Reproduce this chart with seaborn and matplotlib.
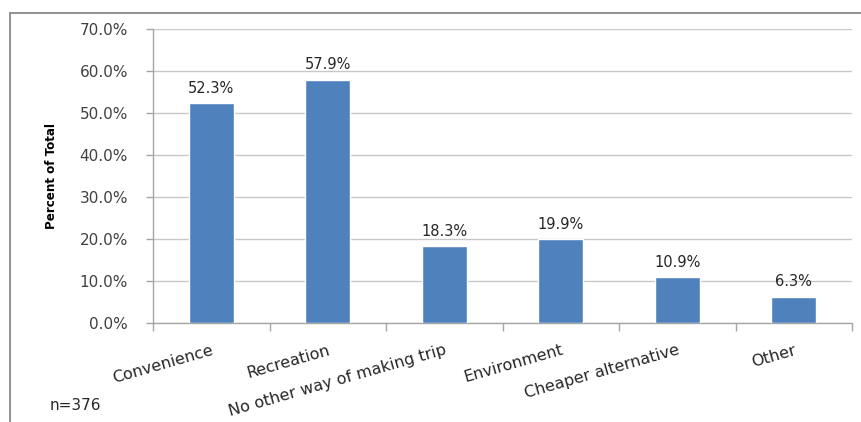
import matplotlib
matplotlib.use("Agg")
import matplotlib.pyplot as plt
import seaborn as sns
import pandas as pd
from matplotlib.ticker import FuncFormatter, MultipleLocator
from matplotlib.patches import Rectangle

categories = ["Convenience", "Recreation", "No other way of making trip",
              "Environment", "Cheaper alternative", "Other"]
values = [52.3, 57.9, 18.3, 19.9, 10.9, 6.3]
ylabel = "Percent of Total"
note = "n=376"

df = pd.DataFrame({"cat": categories, "val": values})

sns.set_theme(style="white")
plt.rcParams['font.family'] = ['DejaVu Sans']

fig = plt.figure(figsize=(8.61, 4.22), dpi=100)
ax = fig.add_axes([153/861, 1-323/422, (852-153)/861, (323-29)/422])

sns.barplot(data=df, x="cat", y="val", color="#4F81BD", width=0.39, ax=ax,
            saturation=1, zorder=3)

ax.set_ylim(0, 70)
ax.set_xlim(-0.5, len(categories) - 0.5)
ax.yaxis.set_major_locator(MultipleLocator(10))
ax.yaxis.set_major_formatter(FuncFormatter(lambda v, p: f"{v:.1f}%"))
ax.grid(axis="y", color="#C8C8C8", linewidth=1, zorder=0)
ax.set_axisbelow(True)

for s in ["top", "right"]:
    ax.spines[s].set_visible(False)
for s in ["left", "bottom"]:
    ax.spines[s].set_color("#A6A6A6")
    ax.spines[s].set_linewidth(1)

ax.tick_params(axis="y", which="major", length=5, color="#A6A6A6", width=1,
               labelsize=11, labelcolor="#404040", left=True, pad=13)
ax.set_xticks(range(len(categories)))
ax.set_xticklabels(categories, rotation=16, ha="right", rotation_mode="anchor",
                   fontsize=11.5, color="#262626")
ax.tick_params(axis="x", which="major", length=0, pad=14)
ax.set_xticks([i - 0.5 for i in range(len(categories) + 1)], minor=True)
ax.tick_params(axis="x", which="minor", length=6, color="#A6A6A6", width=1,
               bottom=True)

for i, v in enumerate(values):
    ax.text(i, v + 1.8, f"{v:.1f}%", ha="center", va="bottom",
            fontsize=10.5, color="#262626")

ax.set_xlabel("")
ax.set_ylabel(ylabel, fontsize=9.5, fontweight="bold", color="#000000",
              family=["DejaVu Sans Condensed", "Liberation Sans Narrow", "DejaVu Sans"],
              fontstretch="condensed")
ax.yaxis.set_label_coords((58 - 153) / (852 - 153), 0.5)

fig.text(50/861, 1-405/422, note, fontsize=11, color="#262626", va="center")

# outer frame
fig.patches.append(Rectangle((10/861, -0.05), 1.2, 1 - 13/422 + 0.05,
                             transform=fig.transFigure, fill=False,
                             edgecolor="#7F7F7F", linewidth=1.2))

fig.savefig("out.png", dpi=100)
